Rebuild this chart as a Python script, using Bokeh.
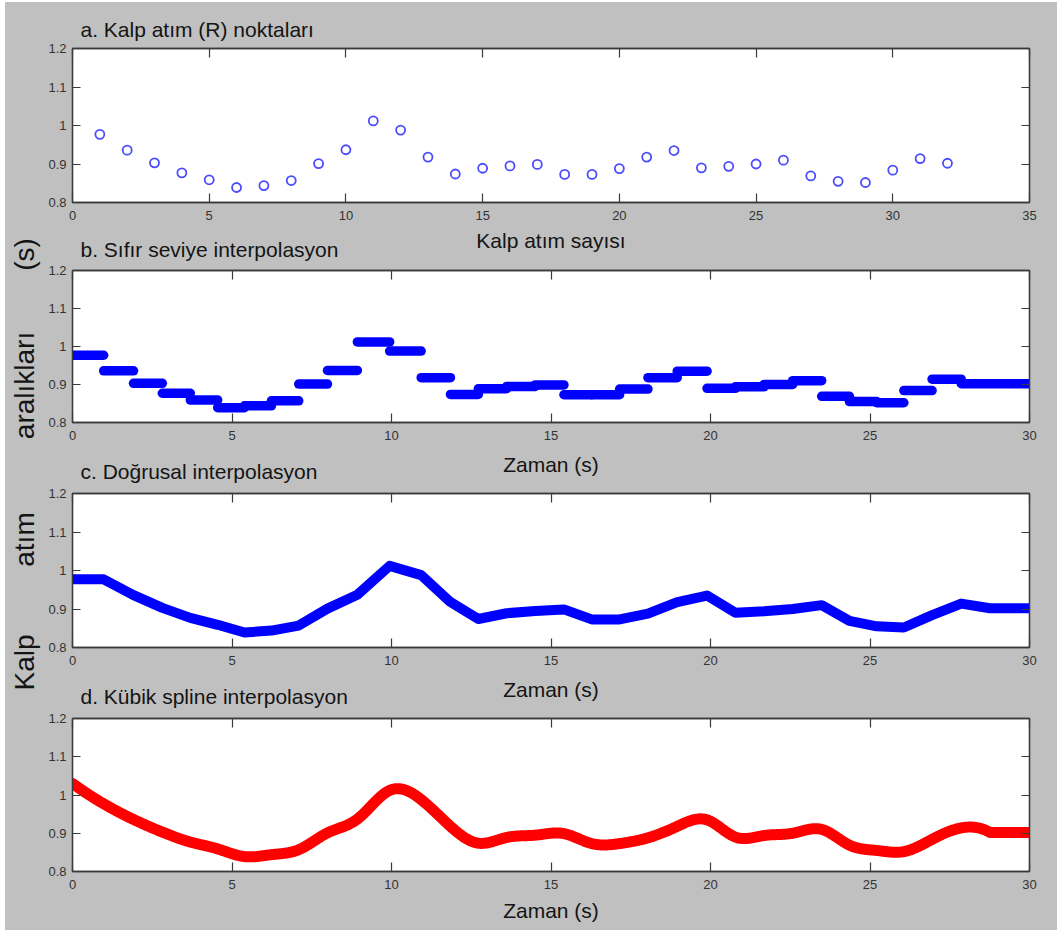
import numpy as np
from bokeh.plotting import figure
from bokeh.layouts import column, row, Spacer
from bokeh.models import Range1d, FixedTicker, LinearAxis
from bokeh.embed import file_html
from bokeh.resources import INLINE
from bokeh.core.properties import value

# ---- data -------------------------------------------------------------
# R-R interval (s) of each detected heart beat
beat_number = list(range(1, 33))
rr_interval = [0.977, 0.936, 0.903, 0.877, 0.859, 0.839, 0.844, 0.857,
               0.901, 0.937, 1.012, 0.988, 0.918, 0.874, 0.889, 0.895,
               0.899, 0.873, 0.873, 0.888, 0.918, 0.935, 0.890, 0.894,
               0.900, 0.910, 0.869, 0.855, 0.852, 0.884, 0.914, 0.902]

beat_ticks = [0, 5, 10, 15, 20, 25, 30, 35]
time_ticks = [0, 5, 10, 15, 20, 25, 30]
rr_ticks = [0.8, 0.9, 1.0, 1.1, 1.2]
rr_tick_labels = ["0.8", "0.9", "1", "1.1", "1.2"]
time_end = 30

panel_titles = ["a. Kalp atım (R) noktaları",
                "b. Sıfır seviye interpolasyon",
                "c. Doğrusal interpolasyon",
                "d. Kübik spline interpolasyon"]
x_titles = ["Kalp atım sayısı", "Zaman (s)", "Zaman (s)", "Zaman (s)"]
y_title_words = ["(s)", "aralıkları", "atım", "Kalp"]

# ---- derived series ---------------------------------------------------
rr = np.asarray(rr_interval, dtype=float)
beat_time = np.cumsum(rr)                       # time of each R peak

# zero-order hold: each interval held from the previous beat to its own
hold_start = np.concatenate([[0.0], beat_time[:-1]])
hold_end = np.concatenate([beat_time[:-1], [time_end]])

# linear interpolation, held flat outside the beat range
lin_t = np.concatenate([[0.0], beat_time, [time_end]])
lin_v = np.concatenate([[rr[0]], rr, [rr[-1]]])


def not_a_knot_spline(xk, yk, xq):
    """Cubic spline with not-a-knot end conditions, evaluated at xq."""
    n = len(xk)
    h = np.diff(xk)
    A = np.zeros((n, n))
    b = np.zeros(n)
    A[0, 0], A[0, 1], A[0, 2] = h[1], -(h[0] + h[1]), h[0]
    for i in range(1, n - 1):
        A[i, i - 1] = h[i - 1]
        A[i, i] = 2 * (h[i - 1] + h[i])
        A[i, i + 1] = h[i]
        b[i] = 6 * ((yk[i + 1] - yk[i]) / h[i] - (yk[i] - yk[i - 1]) / h[i - 1])
    A[-1, -3], A[-1, -2], A[-1, -1] = h[-1], -(h[-2] + h[-1]), h[-2]
    M = np.linalg.solve(A, b)
    k = np.clip(np.searchsorted(xk, xq) - 1, 0, n - 2)
    x0, x1 = xk[k], xk[k + 1]
    hk = x1 - x0
    return (M[k] * (x1 - xq) ** 3 / (6 * hk) + M[k + 1] * (xq - x0) ** 3 / (6 * hk)
            + (yk[k] / hk - M[k] * hk / 6) * (x1 - xq)
            + (yk[k + 1] / hk - M[k + 1] * hk / 6) * (xq - x0))


spl_grid = np.append(np.arange(0.0, beat_time[-1], 0.02), beat_time[-1])
spl_t = np.append(spl_grid, time_end)
spl_v = np.append(not_a_knot_spline(beat_time, rr, spl_grid), rr[-1])

# ---- styling ----------------------------------------------------------
BG = "#c0c0c0"
FONT = "Liberation Sans"
INK = "#141414"
AXIS = "#3a3a3a"

PLOT_W = 1012          # width of the right-hand column (page x 45..1057)
FRAME_L, FRAME_R = 24, 28
FRAME_W = PLOT_W - FRAME_L - FRAME_R

# page rows, top to bottom: (kind, top, bottom)
# panel rows hold a plot frame with its tick labels;
# text rows hold the x titles and panel titles that sit between frames
rows = [
    ("text", 2, 41), ("panel", 41, 227), ("text", 227, 261),
    ("panel", 261, 447), ("text", 447, 484), ("panel", 484, 672),
    ("text", 672, 710), ("panel", 710, 896), ("text", 896, 930),
]
frame_top = [48, 270, 493, 718]
frame_bottom = [202, 422, 647, 871]
# texts of each text row: (text, x from frame left, centre page y, align)
TITLE_X, XLAB_X = 8, FRAME_W / 2
row_texts = [
    [(panel_titles[0], TITLE_X, 28.5, "left")],
    [(x_titles[0], XLAB_X, 239.5, "center"), (panel_titles[1], TITLE_X, 248.5, "left")],
    [(x_titles[1], XLAB_X, 464, "center"), (panel_titles[2], TITLE_X, 470.5, "left")],
    [(x_titles[2], XLAB_X, 689, "center"), (panel_titles[3], TITLE_X, 696, "left")],
    [(x_titles[3], XLAB_X, 910, "center")],
]


def style_axis(ax, ticks, tick_len, labels=True, standoff=5):
    ax.ticker = FixedTicker(ticks=ticks)
    ax.minor_tick_line_color = None
    ax.major_tick_in = tick_len
    ax.major_tick_out = 0
    ax.major_tick_line_color = AXIS
    ax.major_tick_line_width = 1.2
    ax.axis_line_color = AXIS
    ax.axis_line_width = 1.3
    if labels:
        ax.major_label_text_font = FONT
        ax.major_label_text_font_size = "13px"
        ax.major_label_text_color = "#333333"
        ax.major_label_standoff = standoff
    else:
        ax.major_label_text_font_size = "0px"
        ax.major_label_text_color = None
        ax.major_label_standoff = 0


def make_text_row(top, bottom, items):
    h = bottom - top
    p = figure(width=PLOT_W, height=h, x_range=Range1d(0, FRAME_W),
               y_range=Range1d(0, h), output_backend="svg",
               toolbar_location=None,
               min_border_left=FRAME_L, min_border_right=FRAME_R,
               min_border_top=0, min_border_bottom=0,
               x_axis_location=None, y_axis_location=None)
    p.background_fill_color = BG
    p.border_fill_color = BG
    p.outline_line_color = None
    p.grid.visible = False
    for align in ("left", "center"):
        sel = [it for it in items if it[3] == align]
        if not sel:
            continue
        p.text(x=[it[1] for it in sel], y=[bottom - it[2] for it in sel],
               text=[it[0] for it in sel], text_font=value(FONT),
               text_font_size="21px", text_color=INK, text_align=align,
               text_baseline="middle")
    return p


def make_panel(top, bottom, f_top, f_bot, x_max, x_ticks):
    p = figure(width=PLOT_W, height=bottom - top,
               x_range=Range1d(0, x_max), y_range=Range1d(0.8, 1.2),
               output_backend="svg", toolbar_location=None,
               min_border_left=FRAME_L, min_border_right=FRAME_R,
               min_border_top=f_top - top, min_border_bottom=bottom - f_bot)
    p.background_fill_color = "white"
    p.border_fill_color = BG
    p.outline_line_color = AXIS
    p.outline_line_width = 1.3
    p.xgrid.visible = False
    p.ygrid.visible = False
    style_axis(p.xaxis[0], x_ticks, 9, standoff=8)
    style_axis(p.yaxis[0], rr_ticks, 8, standoff=6)
    p.yaxis[0].major_label_overrides = dict(zip(rr_ticks, rr_tick_labels))
    top_ax = LinearAxis()
    right_ax = LinearAxis()
    style_axis(top_ax, x_ticks, 9, labels=False)
    style_axis(right_ax, rr_ticks, 8, labels=False)
    p.add_layout(top_ax, "above")
    p.add_layout(right_ax, "right")
    return p


panel_rows = [r for r in rows if r[0] == "panel"]
text_rows = [r for r in rows if r[0] == "text"]


def panel(k, x_max, x_ticks):
    _, top, bottom = panel_rows[k]
    return make_panel(top, bottom, frame_top[k], frame_bottom[k], x_max, x_ticks)


pa = panel(0, 35, beat_ticks)
pa.scatter(beat_number, rr_interval, marker="circle", size=9,
           fill_color=None, line_color="#4b4bff", line_width=1.8)

pb = panel(1, time_end, time_ticks)
pb.segment(x0=hold_start, y0=rr, x1=hold_end, y1=rr,
           line_color="#0000ff", line_width=9.5, line_cap="round")

pc = panel(2, time_end, time_ticks)
pc.line(lin_t, lin_v, line_color="#0000ff", line_width=10,
        line_join="round", line_cap="round")

pd = panel(3, time_end, time_ticks)
pd.line(spl_t, spl_v, line_color="#ff0000", line_width=11,
        line_join="round", line_cap="round")

panels = iter([pa, pb, pc, pd])
texts = iter(make_text_row(t, b, items) for (_, t, b), items in zip(text_rows, row_texts))
stack = [next(panels) if kind == "panel" else next(texts) for kind, _, _ in rows]

# shared y title, one word at a time, written upward along the left edge
LAB_W, LAB_H = 40, 928
lab = figure(width=LAB_W, height=LAB_H, x_range=Range1d(0, LAB_W),
             y_range=Range1d(0, LAB_H), output_backend="svg",
             toolbar_location=None, min_border_left=0, min_border_right=0,
             min_border_top=0, min_border_bottom=0,
             x_axis_location=None, y_axis_location=None)
lab.background_fill_color = BG
lab.border_fill_color = BG
lab.outline_line_color = None
lab.grid.visible = False
word_page_y = [254, 385, 539, 662]
lab.text(x=[19] * len(y_title_words), y=[LAB_H - (y - 2) for y in word_page_y],
         text=y_title_words, angle=np.pi / 2, text_font=value(FONT),
         text_font_size="28px", text_color=INK, text_align="center",
         text_baseline="middle")

body = row(lab, column(*stack, styles={"background-color": BG}),
           styles={"background-color": BG})
layout = column(Spacer(height=2), row(Spacer(width=5), body))

with open("out.html", "w") as f:
    f.write(file_html(layout, INLINE))
